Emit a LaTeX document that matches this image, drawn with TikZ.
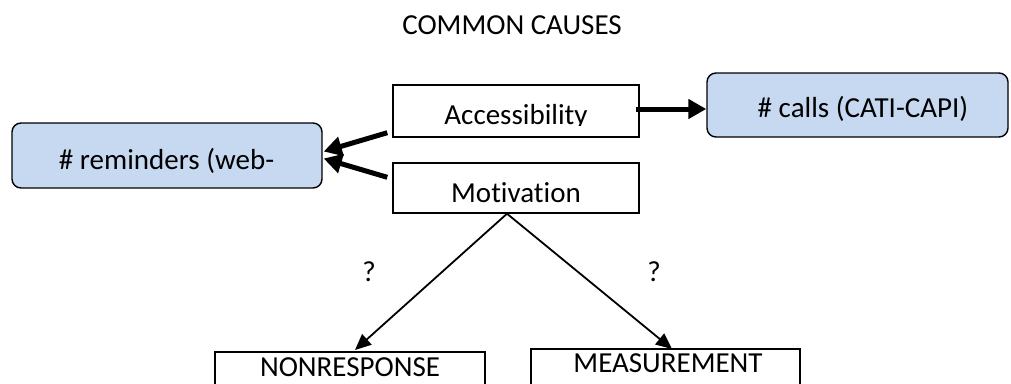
\documentclass[tikz,border=0pt]{standalone}
\usepackage{fontspec}
\setmainfont{Carlito}[Ligatures={NoCommon}]
\usetikzlibrary{arrows.meta}
\definecolor{boxblue}{HTML}{C6D9F1}
\begin{document}
\begin{tikzpicture}[x=1pt,y=-1pt,
  every node/.style={font=\fontsize{29}{34}\selectfont},
  plainbox/.style={draw=black,line width=1.4pt,fill=white,inner sep=0pt},
  bluebox/.style={draw=black,line width=1.4pt,fill=boxblue,rounded corners=9pt,inner sep=0pt},
  txt/.style={anchor=base,inner sep=0pt},
  thick arrow/.style={line width=5pt,-{Triangle[length=18pt,width=19pt]}},
  thin arrow/.style={line width=1.8pt,-{Triangle[length=16pt,width=14pt]}}]
\useasboundingbox (0,0) rectangle (1011,383);
% title
\node[txt] (title) at (512,34) {COMMON CAUSES};
% boxes
\node[plainbox,minimum width=246pt,minimum height=52pt] (acc) at (516,111) {};
\begin{scope}
  \clip (393,85) rectangle (639,125);
  \node[txt] (acct) at (516,124) {Accessibility};
\end{scope}
\node[plainbox,minimum width=246pt,minimum height=50pt] (mot) at (516,188) {};
\node[txt] (mott) at (516,202) {Motivation};
\node[bluebox,minimum width=310pt,minimum height=65pt] (rem) at (167,155.5) {};
\node[txt] (remt) at (166.5,169) {\# reminders (web-};
\node[bluebox,minimum width=301pt,minimum height=64pt] (calls) at (857.5,105) {};
\node[txt] (callst) at (863,117) {\# calls (CATI-CAPI)};
\node[plainbox,minimum width=270pt,minimum height=50pt] (non) at (350,377) {};
\node[txt] (nont) at (350,376) {NONRESPONSE};
\node[plainbox,minimum width=269pt,minimum height=50pt] (mea) at (665.5,374) {};
\node[txt] (meat) at (668,372) {MEASUREMENT};
% question marks
\node[txt] (q1) at (369,281) {?};
\node[txt] (q2) at (654,281) {?};
% connectors
\coordinate (a1) at ([shift={(-5,-5)}]acc.south west);
\coordinate (m1) at ([shift={(-5,15)}]mot.north west);
\coordinate (r1) at ([shift={(1,-4)}]rem.east);
\coordinate (r2) at ([shift={(1,3)}]rem.east);
\draw[thick arrow] (a1) -- (r1);
\draw[thick arrow] (m1) -- (r2);
\coordinate (a2) at ([shift={(-4,-2)}]acc.east);
\draw[thick arrow] (a2) -- (a2 -| calls.west);
\coordinate (ms) at ([xshift=-9pt]mot.south);
\draw[thin arrow] (ms) -- (355,350);
\draw[thin arrow] (ms) -- (672,349);
\end{tikzpicture}
\end{document}
